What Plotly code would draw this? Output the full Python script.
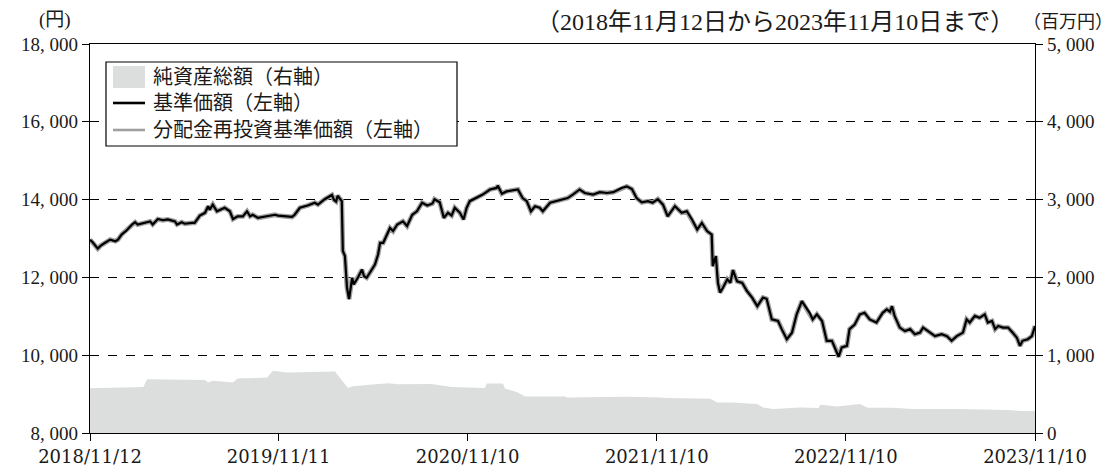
import plotly.graph_objects as go

# ---- data ----
nav_dates = [
    "2018-11-12", "2018-11-18", "2018-11-27", "2018-12-03", "2018-12-11", "2018-12-21", "2018-12-31",
    "2019-01-05", "2019-01-12", "2019-01-22", "2019-02-01", "2019-02-07", "2019-02-12", "2019-02-26",
    "2019-03-08", "2019-03-13", "2019-03-23", "2019-04-02", "2019-04-11", "2019-04-25", "2019-04-29",
    "2019-05-08", "2019-05-14", "2019-05-28", "2019-06-02", "2019-06-12", "2019-06-22", "2019-06-28",
    "2019-07-01", "2019-07-07", "2019-07-15", "2019-07-30", "2019-08-09", "2019-08-15", "2019-08-24",
    "2019-09-03", "2019-09-11", "2019-09-17", "2019-09-22", "2019-10-02", "2019-10-16", "2019-11-04",
    "2019-11-10", "2019-11-23", "2019-12-07", "2019-12-12", "2019-12-22", "2020-01-06", "2020-01-20",
    "2020-01-26", "2020-02-08", "2020-02-22", "2020-02-26", "2020-03-01", "2020-03-04", "2020-03-12",
    "2020-03-14", "2020-03-18", "2020-03-22", "2020-03-26", "2020-04-01", "2020-04-04", "2020-04-12",
    "2020-04-20", "2020-04-24", "2020-04-29", "2020-05-09", "2020-05-15", "2020-05-21", "2020-05-25",
    "2020-05-31", "2020-06-07", "2020-06-13", "2020-06-19", "2020-06-27", "2020-07-08", "2020-07-16",
    "2020-07-26", "2020-08-04", "2020-08-14", "2020-08-24", "2020-09-03", "2020-09-07", "2020-09-17",
    "2020-09-25", "2020-10-03", "2020-10-10", "2020-10-16", "2020-10-26", "2020-11-02", "2020-11-08",
    "2020-11-14", "2020-11-27", "2020-12-09", "2020-12-23", "2021-01-05", "2021-01-07", "2021-01-15",
    "2021-01-24", "2021-02-05", "2021-02-15", "2021-02-24", "2021-03-04", "2021-03-12", "2021-03-20",
    "2021-03-29", "2021-04-04", "2021-04-18", "2021-05-01", "2021-05-13", "2021-05-22", "2021-06-01",
    "2021-06-14", "2021-06-24", "2021-07-10", "2021-07-23", "2021-08-06", "2021-08-18", "2021-09-03",
    "2021-09-13", "2021-09-23", "2021-10-02", "2021-10-12", "2021-10-24", "2021-11-02", "2021-11-12",
    "2021-11-22", "2021-12-01", "2021-12-15", "2021-12-28", "2022-01-07", "2022-01-17", "2022-01-27",
    "2022-02-05", "2022-02-15", "2022-02-24", "2022-02-26", "2022-03-04", "2022-03-08", "2022-03-12",
    "2022-03-18", "2022-03-26", "2022-04-01", "2022-04-06", "2022-04-14", "2022-04-24", "2022-05-03",
    "2022-05-13", "2022-05-23", "2022-06-03", "2022-06-10", "2022-06-20", "2022-07-02", "2022-07-09",
    "2022-07-19", "2022-07-29", "2022-08-07", "2022-08-17", "2022-08-23", "2022-09-01", "2022-09-07",
    "2022-09-15", "2022-09-25", "2022-10-04", "2022-10-14", "2022-10-20", "2022-10-27", "2022-11-02",
    "2022-11-12", "2022-11-17", "2022-11-27", "2022-12-07", "2022-12-16", "2022-12-26", "2023-01-08",
    "2023-01-20", "2023-01-28", "2023-02-03", "2023-02-07", "2023-02-12", "2023-02-22", "2023-03-04",
    "2023-03-14", "2023-03-23", "2023-04-02", "2023-04-08", "2023-04-21", "2023-05-01", "2023-05-14",
    "2023-05-24", "2023-06-02", "2023-06-12", "2023-06-24", "2023-07-01", "2023-07-07", "2023-07-17",
    "2023-07-26", "2023-08-05", "2023-08-11", "2023-08-19", "2023-08-25", "2023-08-31", "2023-09-09",
    "2023-09-19", "2023-09-28", "2023-10-06", "2023-10-12", "2023-10-17", "2023-10-27", "2023-11-04",
    "2023-11-10",
]
nav_values = [
    12970, 12890, 12740, 12820, 12890, 12970, 12930,
    12970, 13100, 13210, 13360, 13420, 13360, 13400,
    13440, 13360, 13500, 13470, 13490, 13440, 13360,
    13420, 13380, 13400, 13400, 13590, 13660, 13830,
    13740, 13870, 13700, 13790, 13700, 13500, 13570,
    13570, 13700, 13570, 13610, 13530, 13570, 13610,
    13590, 13570, 13555, 13610, 13790, 13850, 13920,
    13870, 14010, 14120, 13990, 13950, 14100, 13960,
    12680, 12550, 11740, 11440, 11990, 11820, 11990,
    12200, 12030, 11990, 12200, 12330, 12590, 12890,
    12890, 13100, 13270, 13190, 13360, 13440, 13320,
    13610, 13700, 13920, 13850, 13900, 14010, 13930,
    13530, 13660, 13590, 13790, 13660, 13490, 13790,
    13960, 14040, 14130, 14260, 14300, 14360, 14150,
    14210, 14240, 14260, 14040, 13960, 13700, 13830,
    13790, 13700, 13920, 13960, 14000, 14040, 14130,
    14260, 14170, 14130, 14190, 14170, 14190, 14300,
    14340, 14270, 14040, 13930, 13960, 13920, 14010,
    13870, 13570, 13830, 13660, 13700, 13490, 13230,
    13400, 13190, 13100, 12290, 12550, 11860, 11610,
    11740, 11950, 11860, 12190, 11900, 11860, 11650,
    11480, 11260, 11480, 11450, 10920, 10880, 10670,
    10410, 10580, 11050, 11390, 11260, 11090, 10920,
    11050, 10880, 10370, 10370, 10200, 9960, 10200,
    10240, 10670, 10790, 11050, 11090, 10920, 10840,
    11090, 11180, 11120, 11260, 11010, 10710, 10620,
    10670, 10540, 10580, 10710, 10580, 10490, 10540,
    10490, 10370, 10490, 10580, 10920, 10840, 11010,
    10960, 11050, 10840, 10880, 10670, 10750, 10710,
    10710, 10580, 10450, 10240, 10370, 10410, 10490,
    10750,
]
# the distribution-reinvested NAV coincides with the NAV in the picture
reinvest_values = list(nav_values)

asset_dates = [
    "2018-11-12", "2019-02-23", "2019-03-02", "2019-06-22", "2019-06-28", "2019-07-07", "2019-08-15",
    "2019-08-24", "2019-10-20", "2019-10-31", "2019-11-27", "2020-02-28", "2020-03-09", "2020-03-24",
    "2020-04-01", "2020-05-21", "2020-06-09", "2020-06-29", "2020-09-01", "2020-10-10", "2020-12-13",
    "2020-12-17", "2021-01-17", "2021-01-21", "2021-02-15", "2021-03-01", "2021-05-17", "2021-05-21",
    "2021-06-28", "2021-09-13", "2021-11-16", "2021-11-29", "2022-02-21", "2022-03-07", "2022-04-06",
    "2022-05-23", "2022-06-03", "2022-06-23", "2022-08-14", "2022-09-18", "2022-09-22", "2022-10-25",
    "2022-12-07", "2022-12-22", "2023-02-08", "2023-03-19", "2023-06-17", "2023-09-17", "2023-10-26",
    "2023-11-10",
]
asset_values = [
    575, 590, 692, 680, 650, 670, 650,
    700, 713, 800, 778, 790, 705, 577,
    600, 628, 640, 628, 630, 590, 577,
    637, 637, 573, 522, 470, 470, 457,
    462, 466, 457, 449, 440, 393, 393,
    372, 329, 308, 329, 320, 363, 342,
    372, 325, 325, 308, 308, 295, 278,
    286,
]

x_tick_dates = ["2018-11-12", "2019-11-11", "2020-11-10", "2021-11-10", "2022-11-10", "2023-11-10"]
x_tick_labels = ["2018/11/12", "2019/11/11", "2020/11/10", "2021/11/10", "2022/11/10", "2023/11/10"]
y_left_ticks = [8000, 10000, 12000, 14000, 16000, 18000]
y_left_labels = ["8, 000", "10, 000", "12, 000", "14, 000", "16, 000", "18, 000"]
y_right_ticks = [0, 1000, 2000, 3000, 4000, 5000]
y_right_labels = ["0", "1, 000", "2, 000", "3, 000", "4, 000", "5, 000"]

series_names = ["純資産総額（右軸）", "基準価額（左軸）", "分配金再投資基準価額（左軸）"]

# ---- figure ----
FONT = "Liberation Serif, Noto Sans CJK JP, serif"
XFONT = "DejaVu Serif, Liberation Serif, serif"
AREA_COLOR = "#dcdddd"
GRAY_LINE = "#a0a0a0"
TXT = "#1a1a1a"

fig = go.Figure()
fig.add_trace(go.Scatter(
    x=asset_dates, y=asset_values, name=series_names[0], yaxis="y2",
    mode="lines", line=dict(width=0, color=AREA_COLOR), fill="tozeroy",
    fillcolor=AREA_COLOR,
))
fig.add_trace(go.Scatter(
    x=nav_dates, y=reinvest_values, name=series_names[2],
    mode="lines", line=dict(width=4.8, color=GRAY_LINE),
))
fig.add_trace(go.Scatter(
    x=nav_dates, y=nav_values, name=series_names[1],
    mode="lines", line=dict(width=2.2, color="#000000"),
))

axis_common = dict(
    showline=True, linecolor="black", linewidth=1.3,
    ticks="outside", ticklen=7, tickcolor="black", tickwidth=1,
    zeroline=False, automargin=False,
)
yfont = dict(family=FONT, size=19, color=TXT)


# helpers to place decorations by page pixel (plot area spans x 90..1035, y 44..433)
def px(x):
    return (x - 90) / 945


def py(y):
    return (433 - y) / 389


legend_shapes = [
    dict(type="rect", xref="paper", yref="paper", x0=px(106), x1=px(457), y0=py(146), y1=py(62),
         fillcolor="white", line=dict(color="black", width=1.2), layer="above"),
    dict(type="rect", xref="paper", yref="paper", x0=px(113), x1=px(145), y0=py(88), y1=py(66),
         fillcolor=AREA_COLOR, line=dict(width=0), layer="above"),
    dict(type="line", xref="paper", yref="paper", x0=px(113), x1=px(145), y0=py(103), y1=py(103),
         line=dict(color="black", width=2.6), layer="above"),
    dict(type="line", xref="paper", yref="paper", x0=px(113), x1=px(145), y0=py(130), y1=py(130),
         line=dict(color=GRAY_LINE, width=2.6), layer="above"),
]
legend_texts = [
    dict(text=name, xref="paper", yref="paper", x=px(151), y=py(yc),
         xanchor="left", yanchor="middle", showarrow=False,
         font=dict(family=FONT, size=20, color=TXT))
    for name, yc in zip(series_names, [77, 103, 130])
]

fig.update_layout(
    width=1108, height=461, autosize=False,
    margin=dict(l=82, r=81, t=36, b=36, autoexpand=False),
    paper_bgcolor="white", plot_bgcolor="white",
    font=dict(family=FONT, size=19, color=TXT),
    showlegend=False,
    xaxis=dict(
        type="date", range=["2018-11-12", "2023-11-10"],
        tickmode="array", tickvals=x_tick_dates, ticktext=x_tick_labels,
        tickfont=dict(family=XFONT, size=18, color=TXT),
        showgrid=False, mirror=True, **axis_common,
    ),
    yaxis=dict(
        range=[8000, 18000], tickmode="array", tickvals=y_left_ticks, ticktext=y_left_labels,
        tickfont=yfont,
        showgrid=True, gridcolor="black", gridwidth=1, griddash="dash",
        **axis_common,
    ),
    yaxis2=dict(
        range=[0, 5000], overlaying="y", side="right",
        tickmode="array", tickvals=y_right_ticks, ticktext=y_right_labels,
        tickfont=yfont,
        showgrid=False, **axis_common,
    ),
    shapes=legend_shapes,
    annotations=legend_texts + [
        dict(text="(円)", xref="paper", yref="paper", x=px(54.5), y=py(20),
             xanchor="center", yanchor="middle", showarrow=False,
             font=dict(family=FONT, size=19, color=TXT)),
        dict(text="（2018年11月12日から2023年11月10日まで）", xref="paper", yref="paper",
             x=px(1016), y=py(22), xanchor="right", yanchor="middle", showarrow=False,
             font=dict(family=FONT, size=24, color=TXT)),
        dict(text="（百万円）", xref="paper", yref="paper", x=px(1115), y=py(22),
             xanchor="right", yanchor="middle", showarrow=False,
             font=dict(family=FONT, size=18, color=TXT)),
    ],
)

fig.write_html("out.html")
